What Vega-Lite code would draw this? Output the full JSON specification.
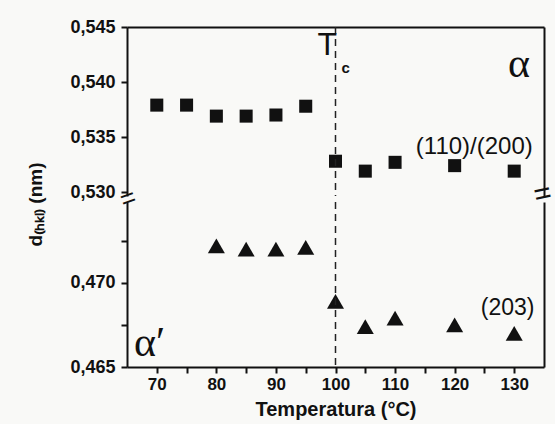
{
  "$schema": "https://vega.github.io/schema/vega-lite/v6.json",
  "background": "#f9f9f7",
  "padding": {"left": 26, "top": 18, "right": 10, "bottom": 5},
  "spacing": 6,
  "bounds": "flush",
  "datasets": {
    "sq": [
      {"temp": 70, "d": 0.5379}, {"temp": 75, "d": 0.5379}, {"temp": 80, "d": 0.5369},
      {"temp": 85, "d": 0.5369}, {"temp": 90, "d": 0.5370}, {"temp": 95, "d": 0.5378},
      {"temp": 100, "d": 0.5328}, {"temp": 105, "d": 0.5319}, {"temp": 110, "d": 0.5327},
      {"temp": 120, "d": 0.5324}, {"temp": 130, "d": 0.5319}
    ],
    "tri": [
      {"temp": 80, "d": 0.4722}, {"temp": 85, "d": 0.4720}, {"temp": 90, "d": 0.4720},
      {"temp": 95, "d": 0.4721}, {"temp": 100, "d": 0.4689}, {"temp": 105, "d": 0.4674},
      {"temp": 110, "d": 0.4679}, {"temp": 120, "d": 0.4675}, {"temp": 130, "d": 0.4670}
    ],
    "tc": [{"temp": 100}],
    "one": [{}]
  },
  "config": {
    "view": {"stroke": null},
    "axis": {
      "domainColor": "#111", "domainWidth": 2, "tickColor": "#111", "tickWidth": 2,
      "labelFont": "Liberation Sans", "labelFontWeight": "bold", "labelFontSize": 18, "labelColor": "#111",
      "titleFont": "Liberation Sans", "titleFontWeight": "bold", "titleColor": "#111", "grid": false
    },
    "text": {"font": "Liberation Sans", "color": "#111"}
  },
  "vconcat": [
    {
      "width": 417, "height": 169,
      "resolve": {"axis": {"y": "independent", "x": "independent"}},
      "layer": [
        {
          "data": {"name": "sq"},
          "mark": {"type": "point", "shape": "square", "filled": true, "size": 170, "color": "#111", "opacity": 1},
          "encoding": {
            "x": {"field": "temp", "type": "quantitative", "scale": {"domain": [65, 135], "nice": false},
                  "axis": {"orient": "top", "labels": false, "ticks": false, "title": null}},
            "y": {"field": "d", "type": "quantitative", "scale": {"domain": [0.52964, 0.545], "nice": false, "zero": false},
                  "axis": {"orient": "left", "values": [0.530, 0.535, 0.540, 0.545], "tickSize": 6, "labelPadding": 6,
                           "labelExpr": "replace(format(datum.value, '.3f'), '.', ',')", "title": null}}
          }
        },
        {
          "data": {"name": "tc"},
          "mark": {"type": "rule", "strokeDash": [7, 5], "strokeWidth": 1.5, "color": "#222"},
          "encoding": {"x": {"field": "temp", "type": "quantitative", "axis": null}}
        },
        {
          "data": {"name": "one"},
          "mark": {"type": "text", "text": "T", "fontSize": 32, "baseline": "middle", "align": "center"},
          "encoding": {
            "x": {"datum": 98.6, "type": "quantitative", "axis": null},
            "y": {"datum": 0.5434, "type": "quantitative", "axis": {"orient": "right", "labels": false, "ticks": false, "title": null}}
          }
        },
        {
          "data": {"name": "one"},
          "mark": {"type": "text", "text": "c", "fontSize": 15, "fontWeight": "bold", "baseline": "middle", "align": "center"},
          "encoding": {
            "x": {"datum": 101.7, "type": "quantitative", "axis": null},
            "y": {"datum": 0.5413, "type": "quantitative", "axis": null}
          }
        },
        {
          "data": {"name": "one"},
          "mark": {"type": "text", "text": "α", "fontSize": 42, "font": "Liberation Serif", "baseline": "middle", "align": "center"},
          "encoding": {
            "x": {"datum": 130.8, "type": "quantitative", "axis": null},
            "y": {"datum": 0.5416, "type": "quantitative", "axis": null}
          }
        },
        {
          "data": {"name": "one"},
          "mark": {"type": "text", "text": "(110)/(200)", "fontSize": 24, "baseline": "middle", "align": "center"},
          "encoding": {
            "x": {"datum": 123.3, "type": "quantitative", "axis": null},
            "y": {"datum": 0.5341, "type": "quantitative", "axis": null}
          }
        },
        {
          "data": {"name": "one"},
          "mark": {"type": "text", "text": "=", "fontSize": 26, "angle": -20, "baseline": "middle", "align": "center", "dy": 3},
          "encoding": {
            "x": {"datum": 65, "type": "quantitative", "axis": null},
            "y": {"datum": 0.52964, "type": "quantitative", "axis": null}
          }
        },
        {
          "data": {"name": "one"},
          "mark": {"type": "text", "text": "=", "fontSize": 30, "angle": -12, "baseline": "middle", "align": "center", "dx": -1, "dy": -2},
          "encoding": {
            "x": {"datum": 135, "type": "quantitative", "axis": null},
            "y": {"datum": 0.52964, "type": "quantitative", "axis": null}
          }
        }
      ]
    },
    {
      "width": 417, "height": 165,
      "resolve": {"axis": {"y": "independent", "x": "independent"}},
      "layer": [
        {
          "data": {"name": "tri"},
          "mark": {"type": "point", "shape": "triangle-up", "filled": true, "size": 290, "color": "#111", "opacity": 1},
          "encoding": {
            "x": {"field": "temp", "type": "quantitative", "scale": {"domain": [65, 135], "nice": false},
                  "axis": {"orient": "bottom", "values": [70, 75, 80, 85, 90, 95, 100, 105, 110, 115, 120, 125, 130],
                           "labelExpr": "datum.value % 10 == 0 ? datum.label : ''", "tickSize": 6, "labelPadding": 3,
                           "labelFontSize": 17,
                           "title": "Temperatura (°C)", "titleFontSize": 20, "titlePadding": 7}},
            "y": {"field": "d", "type": "quantitative", "scale": {"domain": [0.465, 0.4748], "nice": false, "zero": false},
                  "axis": {"orient": "left", "values": [0.465, 0.4675, 0.470, 0.4725], "tickSize": 6, "labelPadding": 6,
                           "labelExpr": "abs(datum.value*200 - round(datum.value*200)) < 0.01 ? replace(format(datum.value, '.3f'), '.', ',') : ''",
                           "title": "d₍ₕₖₗ₎ (nm)", "titleFontSize": 19, "titleY": 2, "titlePadding": 24}}
          }
        },
        {
          "data": {"name": "tc"},
          "mark": {"type": "rule", "strokeDash": [7, 5], "strokeWidth": 1.5, "color": "#222"},
          "encoding": {"x": {"field": "temp", "type": "quantitative", "axis": null}}
        },
        {
          "data": {"name": "one"},
          "mark": {"type": "text", "text": "(203)", "fontSize": 23, "baseline": "middle", "align": "center"},
          "encoding": {
            "x": {"datum": 128.9, "type": "quantitative", "axis": null},
            "y": {"datum": 0.4685, "type": "quantitative", "axis": {"orient": "right", "labels": false, "ticks": false, "title": null}}
          }
        },
        {
          "data": {"name": "one"},
          "mark": {"type": "text", "text": "α′", "fontSize": 42, "font": "Liberation Serif", "baseline": "middle", "align": "center"},
          "encoding": {
            "x": {"datum": 68.8, "type": "quantitative", "axis": null},
            "y": {"datum": 0.4664, "type": "quantitative", "axis": null}
          }
        }
      ]
    }
  ]
}
